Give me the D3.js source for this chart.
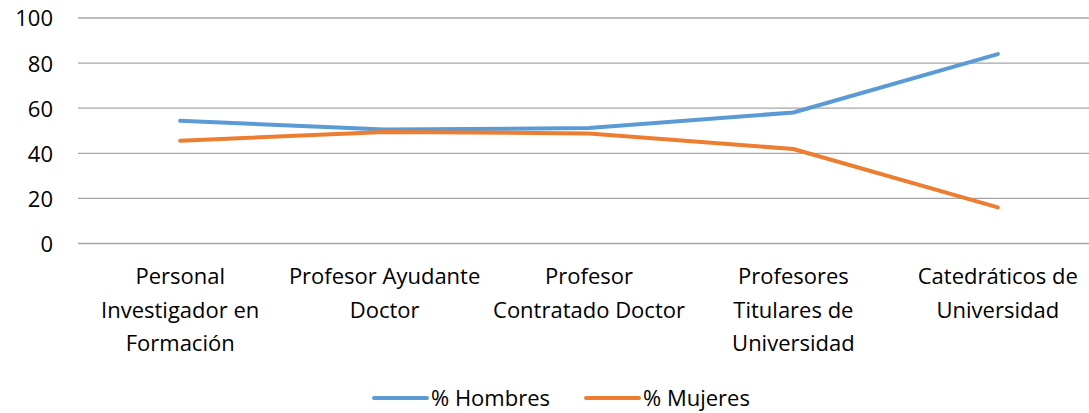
<!DOCTYPE html>
<html>
<head>
<meta charset="utf-8">
<script src="https://cdn.jsdelivr.net/npm/d3@7"></script>
<style>
  body { margin: 0; background: #fff; }
  svg text { font-family: "Open Sans", "Liberation Sans", sans-serif; fill: #000; }
</style>
</head>
<body>
<svg id="chart" width="1089" height="413"></svg>
<script>
// data
const categories = [
    ['Personal', 'Investigador en', 'Formación'],
    ['Profesor Ayudante', 'Doctor'],
    ['Profesor', 'Contratado Doctor'],
    ['Profesores', 'Titulares de', 'Universidad'],
    ['Catedráticos de', 'Universidad']
];
const hombres = [54.4, 50.5, 51.2, 58.1, 84.0];
const mujeres = [45.6, 49.5, 48.8, 41.9, 16.0];
const yTicks = [0, 20, 40, 60, 80, 100];
const seriesNames = ['% Hombres', '% Mujeres'];
const colors = ['#5B9BD5', '#ED7D31'];

let svg = d3.select('#chart');
let margin = { top: 18, left: 78 },
    width = 1022,
    height = 225.5;

let x = d3.scaleBand().domain(d3.range(categories.length)).range([margin.left, margin.left + width]);
let y = d3.scaleLinear().domain([0, 100]).range([margin.top + height, margin.top]);

// gridlines
svg.append('g').selectAll('line').data(yTicks).enter().append('line')
    .attr('x1', margin.left).attr('x2', margin.left + width)
    .attr('y1', (d) => y(d)).attr('y2', (d) => y(d))
    .attr('stroke', '#A6A6A6').attr('stroke-width', 1.3);

// y axis labels
let yAxis = d3.axisLeft(y).tickValues(yTicks).tickSize(0).tickPadding(0);
let ya = svg.append('g').attr('transform', 'translate(53,0)').call(yAxis);
ya.select('.domain').remove();
ya.selectAll('text').style('font-size', '22px').attr('dy', '0.36em');

// x labels
let xl = svg.append('g').selectAll('text').data(categories).enter().append('text')
    .attr('text-anchor', 'middle')
    .attr('x', (d, i) => x(i) + x.bandwidth() / 2)
    .attr('y', 284)
    .style('font-size', '22px');
xl.selectAll('tspan').data((d) => d).enter().append('tspan')
    .attr('x', function () { return d3.select(this.parentNode).attr('x'); })
    .attr('dy', (d, i) => i === 0 ? 0 : 33.5)
    .text((d) => d);

// lines
let line = d3.line()
    .x((d, i) => x(i) + x.bandwidth() / 2)
    .y((d) => y(d));
[hombres, mujeres].forEach((s, k) => {
    svg.append('path').datum(s)
        .attr('d', line)
        .attr('fill', 'none')
        .attr('stroke', colors[k])
        .attr('stroke-width', 4)
        .attr('stroke-linecap', 'round')
        .attr('stroke-linejoin', 'round');
});

// legend
let legendX = [374, 586];
let legend = svg.append('g').selectAll('g').data(seriesNames).enter().append('g')
    .attr('transform', (d, i) => 'translate(' + legendX[i] + ',398)');
legend.append('line').attr('x1', 0).attr('x2', 53).attr('y1', 0).attr('y2', 0)
    .attr('stroke', (d, i) => colors[i]).attr('stroke-width', 4).attr('stroke-linecap', 'round');
legend.append('text').attr('x', 57).attr('dy', '0.36em').style('font-size', '22px').text((d) => d);
</script>
</body>
</html>
